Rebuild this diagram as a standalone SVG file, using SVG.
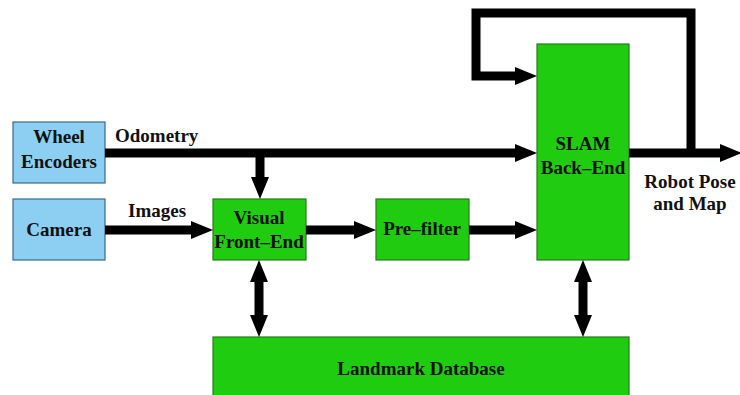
<svg xmlns="http://www.w3.org/2000/svg" width="740" height="395" viewBox="0 0 740 395">
<defs>
<style>
.blue{fill:#8ccff2;stroke:#3a6a8a;stroke-width:1.2}
.green{fill:#1fcc10;stroke:#2a7a1a;stroke-width:1.2}
text{font-family:"Liberation Serif","Times New Roman",serif;font-weight:bold;font-size:19px;fill:#111;text-anchor:middle}
.lbl{text-anchor:start}
.c{fill:none;stroke:#000;stroke-width:9;stroke-linejoin:miter}
</style>
<marker id="ah" markerUnits="userSpaceOnUse" markerWidth="22" markerHeight="20" refX="0" refY="9" orient="auto-start-reverse" viewBox="0 0 22 18">
<path d="M0,0 L22,9 L0,18 z" fill="#000"/>
</marker>
</defs>
<g id="wheel"><rect class="blue" x="13" y="122" width="92" height="61"/><text x="59" y="143">Wheel</text><text x="59" y="168">Encoders</text></g>
<g id="camera"><rect class="blue" x="13" y="199" width="92" height="61"/><text x="59" y="236">Camera</text></g>
<g id="visual"><rect class="green" x="213" y="199" width="93" height="61"/><text x="259" y="224">Visual</text><text x="259" y="248">Front–End</text></g>
<g id="prefilter"><rect class="green" x="376" y="199" width="93" height="61"/><text x="422" y="235">Pre–filter</text></g>
<g id="slam"><rect class="green" x="537" y="44" width="92" height="216"/><text x="583" y="150">SLAM</text><text x="583" y="174">Back–End</text></g>
<g id="landmark"><rect class="green" x="213" y="337" width="416" height="62"/><text x="421" y="375">Landmark Database</text></g>
<g id="connectors">
<line class="c" x1="105" y1="153" x2="515" y2="153" marker-end="url(#ah)"/>
<line class="c" x1="260" y1="153" x2="260" y2="177" marker-end="url(#ah)"/>
<line class="c" x1="105" y1="230" x2="191" y2="230" marker-end="url(#ah)"/>
<line class="c" x1="306" y1="230" x2="354" y2="230" marker-end="url(#ah)"/>
<line class="c" x1="469" y1="230" x2="515" y2="230" marker-end="url(#ah)"/>
<line class="c" x1="629" y1="153" x2="720" y2="153" marker-end="url(#ah)"/>
<polyline class="c" points="691,153 691,13 476,13 476,76 515,76" marker-end="url(#ah)"/>
<line class="c" x1="259" y1="282" x2="259" y2="315" marker-start="url(#ah)" marker-end="url(#ah)"/>
<line class="c" x1="583" y1="282" x2="583" y2="315" marker-start="url(#ah)" marker-end="url(#ah)"/>
</g>
<g id="labels">
<text class="lbl" x="115" y="142">Odometry</text>
<text class="lbl" x="128" y="217">Images</text>
<text x="690" y="188">Robot Pose</text>
<text x="690" y="210">and Map</text>
</g>
</svg>
